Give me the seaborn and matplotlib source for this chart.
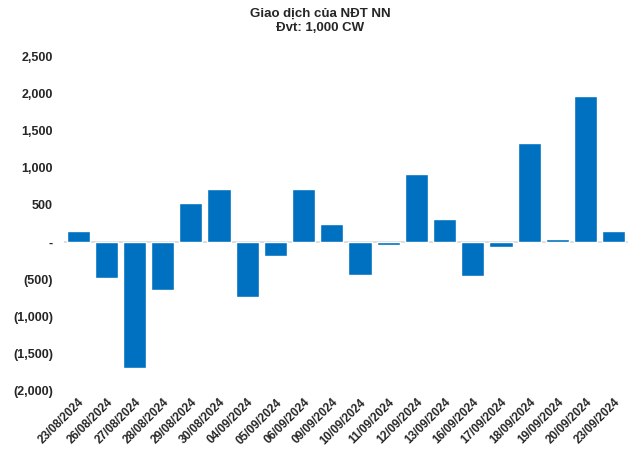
import numpy as np
import pandas as pd
import matplotlib
matplotlib.use("Agg")
import matplotlib.pyplot as plt
from matplotlib.ticker import FuncFormatter
import seaborn as sns

dates = ["23/08/2024", "26/08/2024", "27/08/2024", "28/08/2024", "29/08/2024",
         "30/08/2024", "04/09/2024", "05/09/2024", "06/09/2024", "09/09/2024",
         "10/09/2024", "11/09/2024", "12/09/2024", "13/09/2024", "16/09/2024",
         "17/09/2024", "18/09/2024", "19/09/2024", "20/09/2024", "23/09/2024"]
values = [151, -488, -1694, -639, 527, 713, -742, -180, 713, 245,
          -447, -32, 915, 312, -461, -59, 1331, 44, 1961, 151]

sns.set_style("white")
plt.rcParams['font.family'] = ['Liberation Sans', 'DejaVu Sans']

df = pd.DataFrame({"date": dates, "value": values})

fig, ax = plt.subplots(figsize=(6.4, 4.53), dpi=100)
fig.subplots_adjust(left=0.1, right=0.981, top=0.876, bottom=0.137)

sns.barplot(data=df, x="date", y="value", color="#0070C0", saturation=1,
            width=0.82, ax=ax)

ax.axhline(0, color="#d9d9d9", lw=1.2, zorder=0)
ax.set_ylim(-2000, 2500)
ax.set_yticks(np.arange(-2000, 2501, 500))
ax.set_xlim(-0.5, len(dates) - 0.5)

def fmt(v, pos):
    if v == 0:
        return "-"
    if v < 0:
        return f"({abs(v):,.0f})"
    return f"{v:,.0f}"

ax.yaxis.set_major_formatter(FuncFormatter(fmt))
ax.tick_params(axis="y", length=0, pad=8, labelsize=9)
ax.tick_params(axis="x", length=0, pad=4, labelsize=8.5)
for lab in ax.get_yticklabels():
    lab.set_fontweight("bold")
plt.setp(ax.get_xticklabels(), rotation=45, ha="right", rotation_mode="anchor",
         fontweight="bold")

ax.set_xlabel("")
ax.set_ylabel("")
sns.despine(ax=ax, left=True, bottom=True)

fig.suptitle("Giao dịch của NĐT NN\nĐvt: 1,000 CW", fontsize=9.5, fontweight="bold",
             y=0.982, linespacing=1.15)

plt.savefig("out.png", dpi=100)
